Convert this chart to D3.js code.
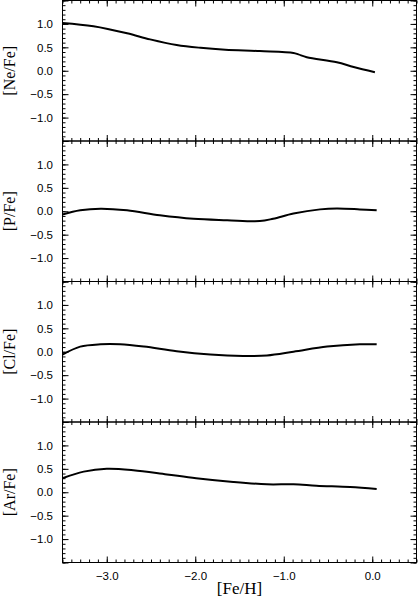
<!doctype html>
<html>
  <head>
    <meta charset="utf-8">
    <title>[X/Fe] vs [Fe/H]</title>
    <script src="https://cdnjs.cloudflare.com/ajax/libs/d3/7.8.5/d3.min.js"></script>
    <style>
      body { margin: 0; background: #fff; }
      .tick text { font-family: "Liberation Sans", Arial, sans-serif; font-size: 11.5px; fill: #000; }
      .ytitle, .xtitle { font-family: "Liberation Serif", "Times New Roman", serif; fill: #000; }
    </style>
  </head>
  <body>
    <div id="chart"></div>
    <script>
      // values
      const panelNames = ['[Ne/Fe]', '[P/Fe]', '[Cl/Fe]', '[Ar/Fe]'];

      const neFeH = [-3.5, -3.15, -2.77, -2.51, -2.21, -1.94, -1.66, -1.27, -0.89, -0.835, -0.74, -0.40, -0.21, 0.03];
      const neVal = [1.02, 0.95, 0.80, 0.67, 0.55, 0.49, 0.45, 0.42, 0.38, 0.35, 0.29, 0.18, 0.08, -0.03];

      const pFeH = [-3.5, -3.30, -3.07, -2.77, -2.40, -2.02, -1.64, -1.27, -1.12, -0.89, -0.59, -0.40, -0.14, 0.05];
      const pVal = [-0.07, 0.02, 0.055, 0.02, -0.085, -0.16, -0.19, -0.21, -0.16, -0.05, 0.04, 0.06, 0.04, 0.02];

      const clFeH = [-3.5, -3.30, -3.07, -2.85, -2.58, -2.21, -1.83, -1.46, -1.19, -0.89, -0.51, -0.14, 0.05];
      const clVal = [-0.06, 0.11, 0.16, 0.16, 0.11, 0.01, -0.06, -0.09, -0.08, 0.0, 0.11, 0.16, 0.16];

      const arFeH = [-3.5, -3.26, -3.00, -2.70, -2.32, -1.99, -1.57, -1.19, -0.89, -0.63, -0.25, 0.05];
      const arVal = [0.30, 0.44, 0.50, 0.47, 0.38, 0.30, 0.22, 0.17, 0.17, 0.14, 0.11, 0.07];

      const xMajor = [-3, -2, -1, 0];
      const yLabels = [-1, -0.5, 0, 0.5, 1];

      const series = [
        {x: neFeH, y: neVal},
        {x: pFeH, y: pVal},
        {x: clFeH, y: clVal},
        {x: arFeH, y: arVal}
      ];

      const W = 418, H = 598;
      const mLeft = 62.5, mRight = 416.5, mTop = 0.5, panelH = 140.5;

      const svg = d3.select('#chart').append('svg')
        .attr('width', W).attr('height', H);

      const x = d3.scaleLinear().domain([-3.5, 0.5]).range([mLeft, mRight]);
      const xMinor = d3.range(-35, 6).map(d => d / 10);
      const yMinor = d3.range(-15, 16).map(d => d / 10);
      const yMajor = [-1.5, -1, -0.5, 0, 0.5, 1, 1.5];

      const fmt = d => d3.format('.1f')(d);

      series.forEach((s, i) => {
        const y0 = mTop + i * panelH;
        const y = d3.scaleLinear().domain([-1.5, 1.5]).range([y0 + panelH, y0]);
        const g = svg.append('g');

        // inward ticks on all four sides
        const ax = (a, vals, size, labels) => {
          const sel = g.append('g').call(a.tickValues(vals).tickSize(-size)
            .tickPadding(labels ? 9.5 : 0).tickFormat(labels ? fmt : () => ''));
          sel.select('.domain').remove();
          sel.selectAll('line').attr('stroke', '#000');
          return sel;
        };
        const last = i === series.length - 1;

        ax(d3.axisTop(x), xMinor, 3).attr('transform', `translate(0,${y0})`);
        ax(d3.axisTop(x), xMajor, 6).attr('transform', `translate(0,${y0})`);
        ax(d3.axisBottom(x), xMinor, 3).attr('transform', `translate(0,${y0 + panelH})`);
        ax(d3.axisBottom(x), xMajor, 6, last).attr('transform', `translate(0,${y0 + panelH})`);

        ax(d3.axisLeft(y), yMinor, 3).attr('transform', `translate(${mLeft},0)`);
        ax(d3.axisLeft(y), yMajor, 6).attr('transform', `translate(${mLeft},0)`);
        const yl = g.append('g').attr('transform', `translate(${mLeft},0)`)
          .call(d3.axisLeft(y).tickValues(yLabels).tickSize(0).tickPadding(9.5).tickFormat(fmt));
        yl.select('.domain').remove();
        yl.selectAll('line').remove();
        ax(d3.axisRight(y), yMinor, 3).attr('transform', `translate(${mRight},0)`);
        ax(d3.axisRight(y), yMajor, 6).attr('transform', `translate(${mRight},0)`);

        g.append('rect')
          .attr('x', mLeft).attr('y', y0)
          .attr('width', mRight - mLeft).attr('height', panelH)
          .attr('fill', 'none').attr('stroke', '#000').attr('stroke-width', 1);

        const pts = s.x.map((v, j) => [v, s.y[j]]);
        g.append('path')
          .datum(pts)
          .attr('fill', 'none')
          .attr('stroke', '#000')
          .attr('stroke-width', 2)
          .attr('d', d3.line().x(d => x(d[0])).y(d => y(d[1])).curve(d3.curveCatmullRom));

        g.append('text')
          .attr('class', 'ytitle')
          .attr('transform', `translate(14.5,${y(0)}) rotate(-90)`)
          .attr('text-anchor', 'middle')
          .style('font-size', '16px')
          .text(panelNames[i]);
      });

      svg.append('text')
        .attr('class', 'xtitle')
        .attr('x', (mLeft + mRight) / 2)
        .attr('y', 594)
        .attr('text-anchor', 'middle')
        .style('font-size', '17px')
        .text('[Fe/H]');
    </script>
  </body>
</html>
